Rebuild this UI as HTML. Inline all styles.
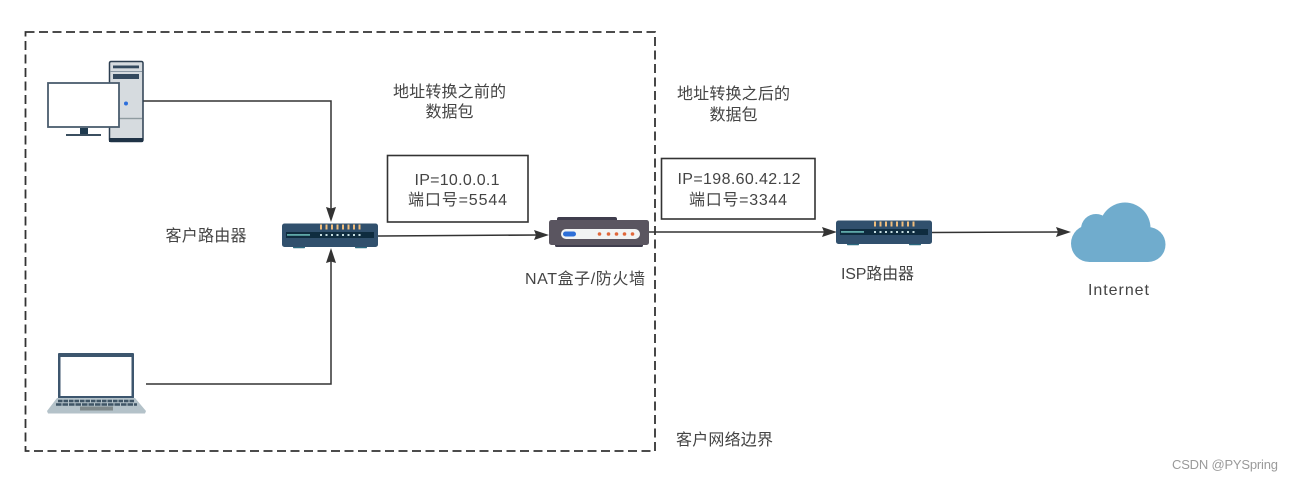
<!DOCTYPE html>
<html>
<head>
<meta charset="utf-8">
<style>
html,body{margin:0;padding:0;background:#fff;width:1292px;height:481px;overflow:hidden}
svg{display:block}
text{font-family:"Liberation Sans","Noto Sans CJK SC",sans-serif;font-size:16px;fill:#444;text-anchor:middle}
</style>
</head>
<body>
<svg width="1292" height="481" viewBox="0 0 1292 481" xmlns="http://www.w3.org/2000/svg">
<defs>
<g id="router">
  <rect x="11" y="22" width="12" height="2.800" rx=".8" fill="#2c6a80"/>
  <rect x="73" y="22" width="12" height="2.800" rx=".8" fill="#2c6a80"/>
  <rect x="0" y="0" width="96" height="23.500" rx="2.500" fill="#31506d"/>
  <rect x="4" y="8.500" width="88" height="6" fill="#0f2c3f"/>
  <rect x="5" y="10.500" width="23" height="1.800" fill="#5fa8a8"/>
  <g fill="#f0bd7c">
    <rect x="38" y="1" width="2" height="5"/><rect x="43.500" y="1" width="2" height="5"/><rect x="49" y="1" width="2" height="5"/><rect x="54.500" y="1" width="2" height="5"/><rect x="60" y="1" width="2" height="5"/><rect x="65.500" y="1" width="2" height="5"/><rect x="71" y="1" width="2" height="5"/><rect x="76.500" y="1" width="2" height="5"/>
  </g>
  <g fill="#c5dde0">
    <rect x="38" y="10.500" width="2" height="2"/><rect x="43.500" y="10.500" width="2" height="2"/><rect x="49" y="10.500" width="2" height="2"/><rect x="54.500" y="10.500" width="2" height="2"/><rect x="60" y="10.500" width="2" height="2"/><rect x="65.500" y="10.500" width="2" height="2"/><rect x="71" y="10.500" width="2" height="2"/><rect x="76.500" y="10.500" width="2" height="2"/>
  </g>
</g>
</defs>

<!-- boundary -->
<rect x="25.500" y="32" width="629.500" height="419" fill="none" stroke="#333" stroke-width="1.800" stroke-dasharray="9 4.500"/>

<!-- connectors -->
<g fill="none" stroke="#333" stroke-width="1.500">
  <path d="M143 101H331V212"/>
  <path d="M146 384H331V260"/>
  <path d="M378 236L538 235"/>
  <path d="M649 232H825"/>
  <path d="M932 232.500L1060 232"/>
</g>
<g fill="#333">
  <path d="M331 222L326 207L331 208.500L336 207Z"/>
  <path d="M331 248L326 263L331 261.500L336 263Z"/>
  <path d="M549 235L534 230L536 235L534 240Z"/>
  <path d="M837 232L822 227L824 232L822 237Z"/>
  <path d="M1071 232L1056 227L1058 232L1056 237Z"/>
</g>

<!-- PC -->
<rect x="109.500" y="61.500" width="33.500" height="80" rx="1.500" fill="#d6dbdf" stroke="#2c3e50" stroke-width="1.500"/>
<rect x="113" y="65.500" width="26" height="2.800" fill="#33495e"/>
<rect x="110" y="71" width="32" height="1" fill="#8a98a4"/>
<rect x="113" y="74" width="26" height="5" fill="#33495e"/>
<rect x="110" y="117.800" width="32" height="1.400" fill="#8f9ba0"/>
<rect x="109" y="138" width="34" height="4" fill="#1f3346"/>
<circle cx="126" cy="103.500" r="2" fill="#2d6fdc"/>
<rect x="48" y="83" width="71" height="44" fill="#fff" stroke="#4a5d6e" stroke-width="1.800"/>
<rect x="80" y="128" width="8" height="6" fill="#1f3a4f"/>
<rect x="66" y="134" width="35" height="2" fill="#3b4f60"/>

<!-- laptop -->
<rect x="58" y="353" width="76" height="45.500" rx="1" fill="#3d566e"/>
<rect x="60.500" y="357" width="71" height="39" fill="#fff"/>
<path d="M57 398H135L146 411L145 413.500H48L47 411Z" fill="#b4c2c9"/>
<line x1="58" y1="401" x2="134" y2="401" stroke="#3f5566" stroke-width="2.400" stroke-dasharray="4.500 1"/>
<line x1="56" y1="404.500" x2="137" y2="404.500" stroke="#3f5566" stroke-width="2.400" stroke-dasharray="5.500 1"/>
<rect x="80" y="406.500" width="33" height="4" fill="#808a8c"/>

<!-- routers -->
<use href="#router" x="282" y="223.500"/>
<use href="#router" x="836" y="220.500"/>

<!-- NAT -->
<rect x="557" y="217" width="60" height="5" rx="2" fill="#3f3d4d"/>
<rect x="555" y="243" width="88" height="4" rx="1.500" fill="#3f3d4d"/>
<rect x="549" y="220" width="100" height="25" rx="2.500" fill="#5a5560"/>
<rect x="561" y="229" width="79" height="10" rx="5" fill="#f1f3f3"/>
<rect x="563" y="231.500" width="13" height="5" rx="2.500" fill="#2d6fd8"/>
<g fill="#e0673a">
  <circle cx="599.500" cy="234" r="1.800"/><circle cx="608.500" cy="234" r="1.800"/><circle cx="616.500" cy="234" r="1.800"/><circle cx="624.500" cy="234" r="1.800"/><circle cx="632.500" cy="234" r="1.800"/>
</g>

<!-- cloud -->
<g fill="#70accd">
  <circle cx="1125" cy="228" r="25.500"/>
  <circle cx="1096" cy="229" r="15"/>
  <circle cx="1089.500" cy="243.500" r="18.500"/>
  <circle cx="1148" cy="244.500" r="17.500"/>
  <rect x="1089" y="232" width="59" height="30"/>
</g>

<!-- boxes -->
<rect x="387.500" y="155.500" width="140.500" height="66.500" fill="#fff" stroke="#333" stroke-width="1.600"/>
<rect x="661.500" y="158.500" width="153.500" height="60.500" fill="#fff" stroke="#333" stroke-width="1.600"/>

<!-- labels -->
<text x="449.500" y="97" textLength="113">地址转换之前的</text>
<text x="449.500" y="117" textLength="48">数据包</text>
<text x="733.500" y="99" textLength="113">地址转换之后的</text>
<text x="733.500" y="120" textLength="48">数据包</text>
<text x="457" y="185" textLength="85">IP=10.0.0.1</text>
<text x="457.500" y="205" textLength="99">端口号=5544</text>
<text x="739" y="184" textLength="123">IP=198.60.42.12</text>
<text x="738" y="205" textLength="98">端口号=3344</text>
<text x="206" y="241" textLength="81">客户路由器</text>
<text x="585" y="284" textLength="120">NAT盒子/防火墙</text>
<text x="877.500" y="279" textLength="73">ISP路由器</text>
<text x="1118.500" y="295" textLength="61">Internet</text>
<text x="724.500" y="445" textLength="97">客户网络边界</text>
<text x="1225" y="469" textLength="106" style="font-size:13px;fill:#9a9a9a">CSDN @PYSpring</text>
</svg>
</body>
</html>
